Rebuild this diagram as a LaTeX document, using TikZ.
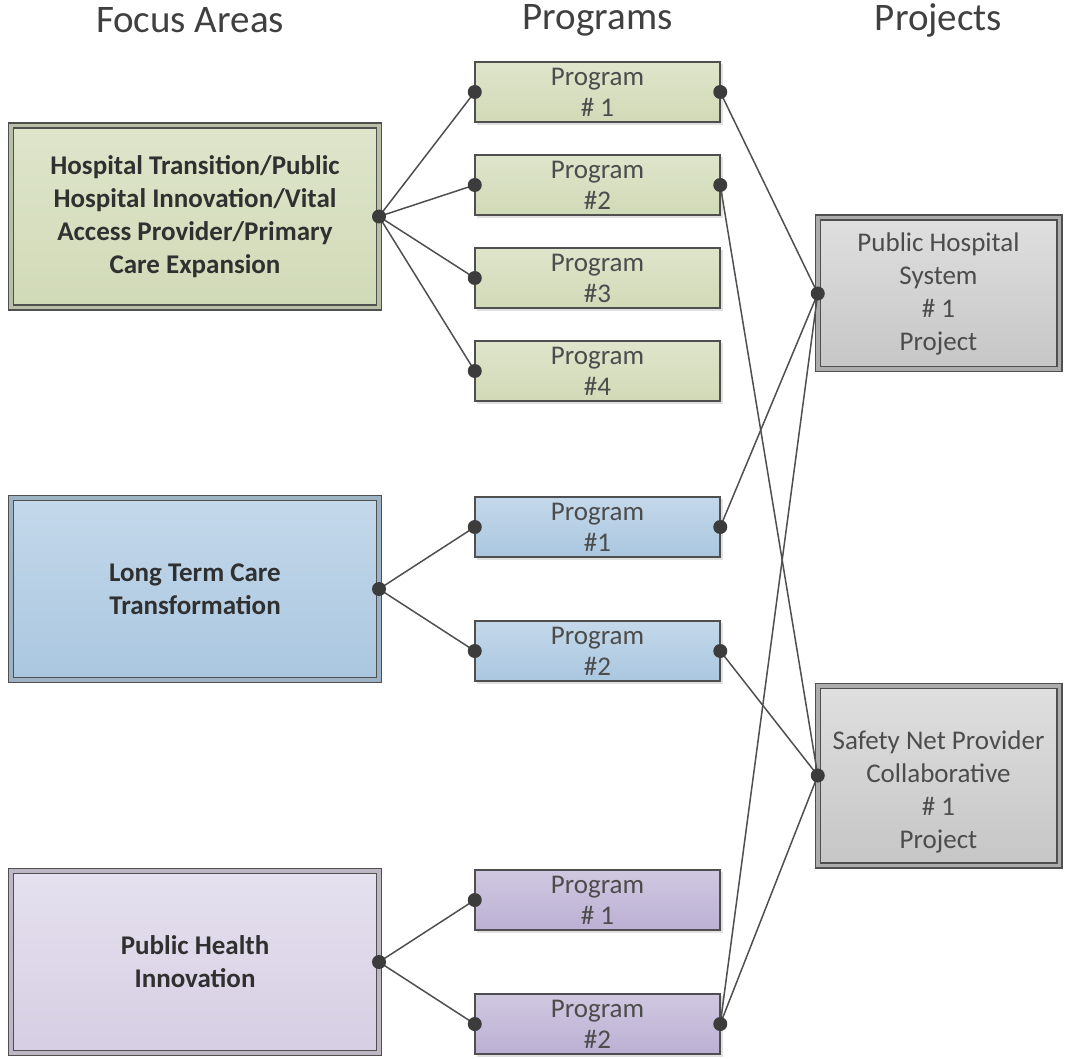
\documentclass[tikz,border=0pt]{standalone}
\usepackage{fontspec}
\setmainfont{Carlito}
\usetikzlibrary{shadows}

\definecolor{linec}{HTML}{4F4F4F}
\definecolor{dotc}{HTML}{3C3C3C}
\definecolor{textc}{HTML}{303030}
\definecolor{greenA}{HTML}{DEE5CB}
\definecolor{greenB}{HTML}{D1DAB7}
\definecolor{blueA}{HTML}{C4D8EA}
\definecolor{blueB}{HTML}{AAC7E0}
\definecolor{lilacA}{HTML}{E5E1EF}
\definecolor{lilacB}{HTML}{D6CEE3}
\definecolor{purpleA}{HTML}{D0C8E1}
\definecolor{purpleB}{HTML}{BCB0D3}
\definecolor{grayA}{HTML}{DFDFDF}
\definecolor{grayB}{HTML}{C6C6C6}

\tikzset{
  shade/.style 2 args={top color=#1, bottom color=#2},
  boxshadow/.style={drop shadow={shadow xshift=2.5pt, shadow yshift=-2.5pt,
      fill=black, opacity=0.12}},
  focus/.style 2 args={shade={#1}{#2}, draw=linec, line width=1.5pt,
      double=#2!70!gray, double distance=3.5pt, boxshadow,
      minimum width=368pt, minimum height=182pt, inner sep=0pt, outer sep=0pt,
      align=center, text=textc, font=\bfseries\fontsize{27}{33}\selectfont},
  prog/.style 2 args={shade={#1}{#2}, draw=linec, line width=1.6pt, boxshadow,
      minimum width=245.5pt, minimum height=60.5pt, inner sep=0pt, outer sep=0pt,
      align=center, text=black!70, font=\fontsize{27}{31}\selectfont},
  proj/.style={shade={grayA}{grayB}, draw=linec, line width=1.5pt,
      double=gray!65, double distance=3.5pt, boxshadow,
      minimum width=241.5pt, inner sep=0pt, outer sep=0pt,
      align=center, text=black!70, font=\fontsize{27}{33}\selectfont},
  heading/.style={text=black!75, font=\fontsize{39}{47}\selectfont},
  link/.style={draw=linec, line width=1.5pt},
  dot/.style={fill=dotc},
}

\begin{document}
\begin{tikzpicture}[x=1pt, y=-1pt]
	\useasboundingbox (0,0) rectangle (1066,1059);

	% column headings
	\node[heading] (hfocus) at (190,20) {Focus Areas};
	\node[heading] (hprog) at (597.5,20) {Programs};
	\node[heading] (hproj) at (938.5,20) {Projects};

	% focus areas
	\node[focus={greenA}{greenB}] (hosp) at (195,216.5)
		{Hospital Transition/Public\\Hospital Innovation/Vital\\Access Provider/Primary\\Care Expansion};
	\node[focus={blueA}{blueB}] (ltc) at (195,589)
		{Long Term Care\\Transformation};
	\node[focus={lilacA}{lilacB}] (health) at (195,962)
		{Public Health\\Innovation};

	% programs
	\node[prog={greenA}{greenB}] (g1) at (597.5,92) {Program\\\# 1};
	\node[prog={greenA}{greenB}] (g2) at (597.5,185) {Program\\\#2};
	\node[prog={greenA}{greenB}] (g3) at (597.5,278) {Program\\\#3};
	\node[prog={greenA}{greenB}] (g4) at (597.5,371) {Program\\\#4};
	\node[prog={blueA}{blueB}] (b1) at (597.5,527) {Program\\\#1};
	\node[prog={blueA}{blueB}] (b2) at (597.5,651) {Program\\\#2};
	\node[prog={purpleA}{purpleB}] (p1) at (597.5,900) {Program\\\# 1};
	\node[prog={purpleA}{purpleB}] (p2) at (597.5,1024) {Program\\\#2};

	% projects
	\node[proj, minimum height=151.5pt] (phs) at (938.5,293.5)
		{Public Hospital\\System\\\# 1\\Project};
	\node[proj, minimum height=179.5pt] (snp) at (938.5,775.5)
		{\rule{0pt}{18pt}\\Safety Net Provider\\Collaborative\\\# 1\\Project};

	% links
	\foreach \p in {g1, g2, g3, g4}
		\draw[link] (hosp.east) -- (\p.west);
	\foreach \p in {b1, b2}
		\draw[link] (ltc.east) -- (\p.west);
	\foreach \p in {p1, p2}
		\draw[link] (health.east) -- (\p.west);
	\draw[link] (g1.east) -- (phs.west);
	\draw[link] (g2.east) -- (snp.west);
	\draw[link] (b1.east) -- (phs.west);
	\draw[link] (b2.east) -- (snp.west);
	\draw[link] (p2.east) -- (phs.west);
	\draw[link] (p2.east) -- (snp.west);

	% connection dots
	\foreach \n in {hosp.east, ltc.east, health.east, g1.west, g2.west, g3.west,
			g4.west, b1.west, b2.west, p1.west, p2.west, g1.east, g2.east,
			b1.east, b2.east, p2.east, phs.west, snp.west}
		\path[dot] (\n) circle[radius=7pt];
\end{tikzpicture}
\end{document}
